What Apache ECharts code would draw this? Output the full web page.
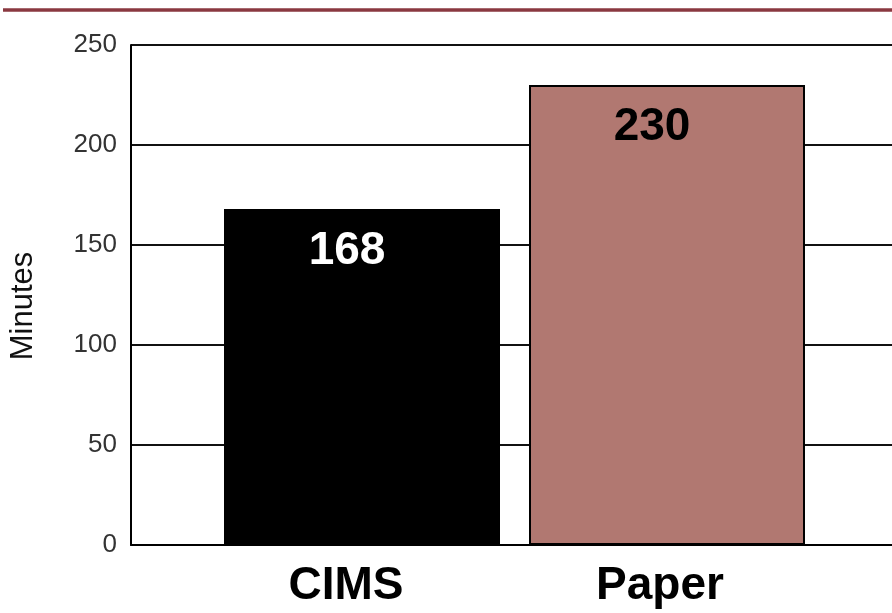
<!DOCTYPE html>
<html>
<head>
<meta charset="utf-8">
<script src="https://cdn.jsdelivr.net/npm/echarts@6/dist/echarts.min.js"></script>
<style>html,body{margin:0;padding:0;background:#fff;}#c{width:892px;height:613px;}</style>
</head>
<body>
<div id="c"></div>
<script>
var categories = ['CIMS', 'Paper'];
var minutes = [168, 230];
var barColors = ['#000000', '#b17871'];
var labelColors = ['#ffffff', '#000000'];
var yTicks = { min: 0, max: 250, interval: 50 };

var chart = echarts.init(document.getElementById('c'));
var font = 'Liberation Sans, Arial, Helvetica, sans-serif';
chart.setOption({
  animation: false,
  backgroundColor: '#ffffff',
  graphic: [{
    type: 'line',
    shape: { x1: 3, y1: 10, x2: 892, y2: 10 },
    style: { stroke: '#8a3840', lineWidth: 3.5 }
  }],
  grid: [
    { left: 127, right: -60, top: 45, bottom: 68 },
    { left: 209.5, width: 610, top: 45, bottom: 68 }
  ],
  xAxis: [
    { gridIndex: 0, type: 'category', data: [], axisLine: { show: true, lineStyle: { color: '#000', width: 2 } },
      axisTick: { show: false }, axisLabel: { show: false }, splitLine: { show: false } },
    { gridIndex: 1, type: 'category', data: categories, axisLine: { show: false }, axisTick: { show: false },
      axisLabel: { fontFamily: font, fontWeight: 'bold', fontSize: 46, color: '#000', margin: 18,
        formatter: function (v) { return v === 'CIMS' ? '{a|' + v + '}' : '{b|' + v + '}'; },
        rich: {
          a: { fontFamily: font, fontWeight: 'bold', fontSize: 46, color: '#000', padding: [0, 32, 0, 0] },
          b: { fontFamily: font, fontWeight: 'bold', fontSize: 46, color: '#000', padding: [0, 14, 0, 0] }
        } } }
  ],
  yAxis: [
    { gridIndex: 0, type: 'value', min: yTicks.min, max: yTicks.max, interval: yTicks.interval,
      name: 'Minutes', nameLocation: 'middle', nameGap: 92, nameRotate: 90,
      nameTextStyle: { fontFamily: font, fontSize: 31, color: '#111', padding: [0, 22, 0, 0] },
      axisLine: { show: true, lineStyle: { color: '#000', width: 2 } }, axisTick: { show: false },
      axisLabel: { fontFamily: font, fontSize: 26, color: '#333', margin: 14 },
      splitLine: { show: true, lineStyle: { color: '#111', width: 2 } } },
    { gridIndex: 1, type: 'value', min: yTicks.min, max: yTicks.max, interval: yTicks.interval, show: false,
      splitLine: { show: false } }
  ],
  series: [{
    type: 'bar',
    xAxisIndex: 1, yAxisIndex: 1,
    barWidth: 276,
    data: minutes.map(function (v, i) {
      return {
        value: v,
        itemStyle: { color: barColors[i], borderColor: '#000', borderWidth: 2 },
        label: { color: labelColors[i] }
      };
    }),
    label: { show: true, position: 'insideTop', distance: 19, offset: [-15, 0],
      fontFamily: font, fontWeight: 'bold', fontSize: 46 }
  }]
});
</script>
</body>
</html>
